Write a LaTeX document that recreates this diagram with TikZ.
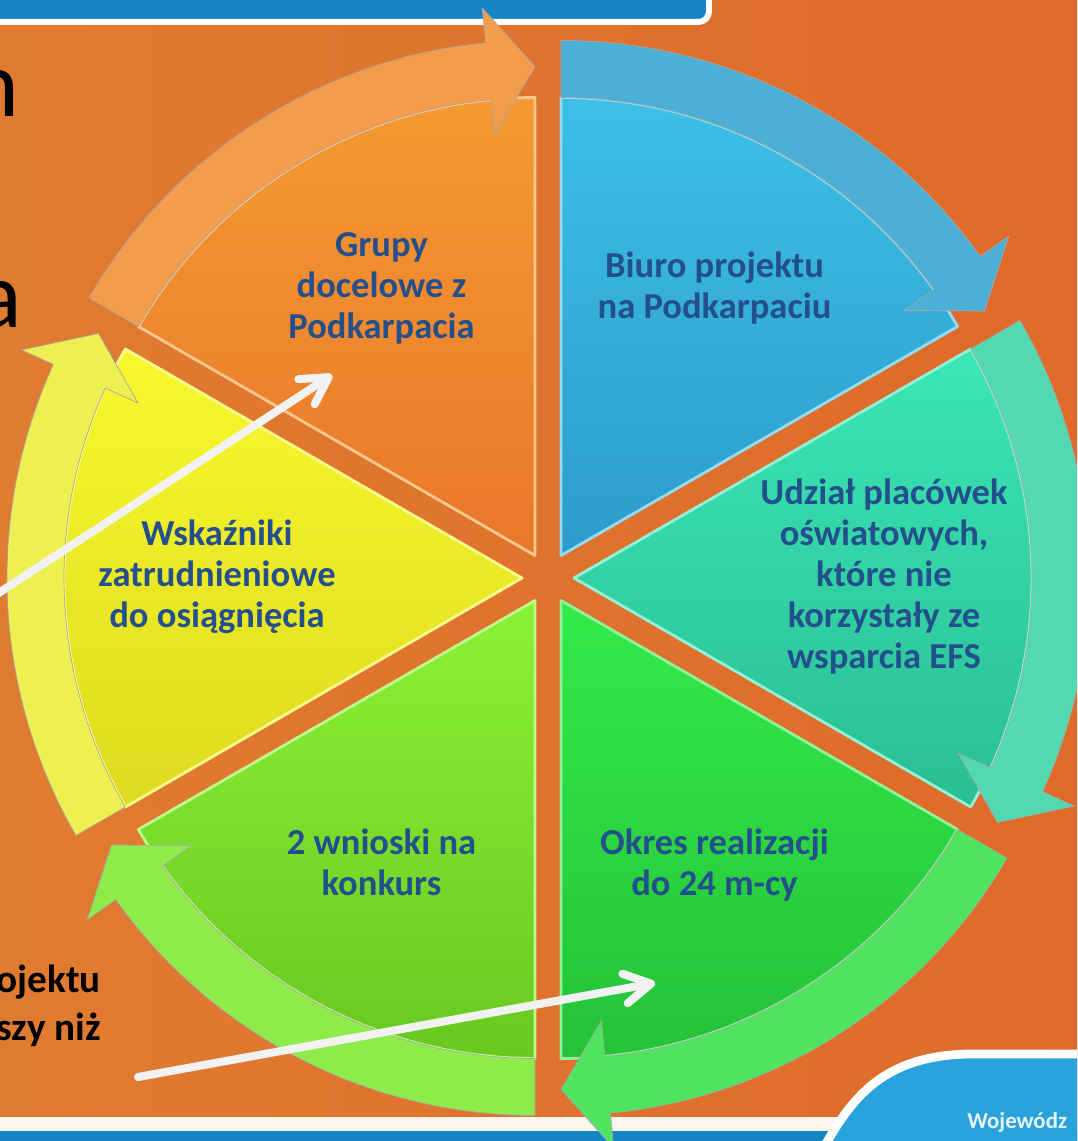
\documentclass[tikz,border=0pt]{standalone}
\usepackage{fontspec}
\setmainfont{Carlito}
\usepackage{tikz}
\usetikzlibrary{arrows.meta,positioning,calc}

\definecolor{bgleft}{HTML}{E07C31}
\definecolor{bgright}{HTML}{DF6A29}
\definecolor{txtblue}{HTML}{23508C}
\definecolor{bannerblue}{HTML}{1685C5}
\definecolor{footblue}{HTML}{2AA3DC}
\definecolor{pointerwhite}{HTML}{F2F2F2}
\definecolor{orangetop}{HTML}{F59A32}
\definecolor{orangebot}{HTML}{E9772A}
\definecolor{orangering}{HTML}{F59C4A}
\definecolor{bluetop}{HTML}{3DBFE6}
\definecolor{bluebot}{HTML}{2C9CCB}
\definecolor{bluering}{HTML}{4BAFD6}
\definecolor{tealtop}{HTML}{3BE6B6}
\definecolor{tealbot}{HTML}{29BE93}
\definecolor{tealring}{HTML}{52D9B0}
\definecolor{greentop}{HTML}{33EA4A}
\definecolor{greenbot}{HTML}{24C238}
\definecolor{greenring}{HTML}{4FE35F}
\definecolor{lgreentop}{HTML}{8CF235}
\definecolor{lgreenbot}{HTML}{68C820}
\definecolor{lgreenring}{HTML}{8EEB4A}
\definecolor{yellowtop}{HTML}{F8F82E}
\definecolor{yellowbot}{HTML}{DEDA1E}
\definecolor{yellowring}{HTML}{EEF052}

\begin{document}
\begin{tikzpicture}[
    x=0.02cm, y=0.02cm,
    >={Straight Barb[length=15pt,width=17pt,line cap=round,line join=round]},
    segtext/.style={
        text=txtblue,
        font=\fontsize{20.8}{23.3}\selectfont\bfseries,
        inner sep=0pt
    },
    cuttext/.style={
        text=black,
        font=\fontsize{22.3}{27}\selectfont\bfseries,
        inner sep=0pt
    },
    bigtext/.style={
        text=black,
        font=\fontsize{54}{60}\selectfont,
        inner sep=0pt
    },
    segment/.style={
        draw=#1!55!white,
        line width=1.6pt,
        line join=round
    },
    ring/.style={
        fill=#1,
        draw=black!35,
        line width=0.4pt,
        line join=round
    },
    pointer/.style={
        draw=pointerwhite,
        line width=4.6pt,
        line cap=round
    }
  ]
  \useasboundingbox (-548,-563) rectangle (529,578);
  \clip (-548,-563) rectangle (529,578);

  % background and banners
  \shade[left color=bgleft, right color=bgright] (-548,-563) rectangle (529,578);
  \draw[white, line width=3.4pt, fill=bannerblue, rounded corners=6pt]
    (-570,556) rectangle (161,610);
  \fill[white!92!bgleft] (-560,-553) rectangle (560,-539);
  \fill[bannerblue] (-560,-575) rectangle (560,-553);
  \draw[white, line width=5pt, fill=footblue]
    (270,-580) .. controls (300,-525) and (330,-478) .. (420,-476)
    -- (560,-476) -- (560,-580) -- cycle;
  \node[anchor=base west, text=white!88!footblue,
        font=\fontsize{13}{15}\selectfont\bfseries, inner sep=0pt]
    (woj) at (419,-550) {Wojewódz};

  % We start by placing the segments
  \begin{scope}[shift={(-13,22.5)}]
    \fill[top color=orangetop, bottom color=orangebot]
      (0,0) -- (90:458) arc[start angle=90, end angle=150, radius=458] -- cycle;
    \draw[segment=orangetop]
      (0,0) -- (90:458) arc[start angle=90, end angle=150, radius=458] -- cycle;
    \draw[ring=orangering]
      (150:515) arc[start angle=150, end angle=95.5, radius=515]
      -- (95.5:550) -- (90:489) -- (95.5:422) -- (95.5:458)
      arc[start angle=95.5, end angle=150, radius=458] -- cycle;
  \end{scope}

  \begin{scope}[shift={(13,22.5)}]
    \fill[top color=bluetop, bottom color=bluebot]
      (0,0) -- (30:458) arc[start angle=30, end angle=90, radius=458] -- cycle;
    \draw[segment=bluetop]
      (0,0) -- (30:458) arc[start angle=30, end angle=90, radius=458] -- cycle;
    \draw[ring=bluering]
      (90:515) arc[start angle=90, end angle=35.5, radius=515]
      -- (35.5:550) -- (30:489) -- (35.5:422) -- (35.5:458)
      arc[start angle=35.5, end angle=90, radius=458] -- cycle;
  \end{scope}

  \begin{scope}[shift={(26,0)}]
    \fill[top color=tealtop, bottom color=tealbot]
      (0,0) -- (-30:458) arc[start angle=-30, end angle=30, radius=458] -- cycle;
    \draw[segment=tealtop]
      (0,0) -- (-30:458) arc[start angle=-30, end angle=30, radius=458] -- cycle;
    \draw[ring=tealring]
      (30:515) arc[start angle=30, end angle=-24.5, radius=515]
      -- (-24.5:550) -- (-30:489) -- (-24.5:422) -- (-24.5:458)
      arc[start angle=-24.5, end angle=30, radius=458] -- cycle;
  \end{scope}

  \begin{scope}[shift={(13,-22.5)}]
    \fill[top color=greentop, bottom color=greenbot]
      (0,0) -- (-90:458) arc[start angle=-90, end angle=-30, radius=458] -- cycle;
    \draw[segment=greentop]
      (0,0) -- (-90:458) arc[start angle=-90, end angle=-30, radius=458] -- cycle;
    \draw[ring=greenring]
      (-30:515) arc[start angle=-30, end angle=-84.5, radius=515]
      -- (-84.5:550) -- (-90:489) -- (-84.5:422) -- (-84.5:458)
      arc[start angle=-84.5, end angle=-30, radius=458] -- cycle;
  \end{scope}

  \begin{scope}[shift={(-13,-22.5)}]
    \fill[top color=lgreentop, bottom color=lgreenbot]
      (0,0) -- (-150:458) arc[start angle=-150, end angle=-90, radius=458] -- cycle;
    \draw[segment=lgreentop]
      (0,0) -- (-150:458) arc[start angle=-150, end angle=-90, radius=458] -- cycle;
    \draw[ring=lgreenring]
      (-90:515) arc[start angle=-90, end angle=-144.5, radius=515]
      -- (-144.5:550) -- (-150:489) -- (-144.5:422) -- (-144.5:458)
      arc[start angle=-144.5, end angle=-90, radius=458] -- cycle;
  \end{scope}

  \begin{scope}[shift={(-26,0)}]
    \fill[top color=yellowtop, bottom color=yellowbot]
      (0,0) -- (150:458) arc[start angle=150, end angle=210, radius=458] -- cycle;
    \draw[segment=yellowtop]
      (0,0) -- (150:458) arc[start angle=150, end angle=210, radius=458] -- cycle;
    \draw[ring=yellowring]
      (210:515) arc[start angle=210, end angle=155.5, radius=515]
      -- (155.5:550) -- (150:489) -- (155.5:422) -- (155.5:458)
      arc[start angle=155.5, end angle=210, radius=458] -- cycle;
  \end{scope}

  % texts of the segments
  \node[segtext] (grupy) at (120:333)
 {%
 \begin{tabular}{@{}c@{}}
  Grupy\\
  docelowe z\\
  Podkarpacia
 \end{tabular}
 };

  \node[segtext] (biuro) at (60:333)
 {%
 \begin{tabular}{@{}c@{}}
  Biuro projektu\\
  na Podkarpaciu
 \end{tabular}
 };

  \node[segtext] (udzial) at (0:336)
 {%
 \begin{tabular}{@{}c@{}}
  Udział placówek\\
  oświatowych,\\
  które nie\\
  korzystały ze\\
  wsparcia EFS
 \end{tabular}
 };

  \node[segtext] (okres) at (-60:333)
 {%
 \begin{tabular}{@{}c@{}}
  Okres realizacji\\
  do 24 m-cy
 \end{tabular}
 };

  \node[segtext] (wnioski) at (-120:333)
 {%
 \begin{tabular}{@{}c@{}}
  2 wnioski na\\
  konkurs
 \end{tabular}
 };

  \node[segtext] (wskazniki) at (180:331)
 {%
 \begin{tabular}{@{}c@{}}
  Wskaźniki\\
  zatrudnieniowe\\
  do osiągnięcia
 \end{tabular}
 };

  % cut texts at the left border
  \node[bigtext, anchor=base east] (bign) at (-528,461) {n};
  \node[bigtext, anchor=base east] (biga) at (-526,250) {a};
  \node[cuttext, anchor=base east] (projektu) at (-447,-414) {rojektu};
  \node[cuttext, anchor=base east] (krotszy) at (-447,-462) {szy niż};

  % white pointers
  \coordinate (w1start) at (-560,-22);
  \coordinate (w1end) at (-216,203);
  \coordinate (w2start) at (-410,-499);
  \coordinate (w2end) at (107,-405);
  \draw[pointer,->] (w1start) -- (w1end);
  \draw[pointer,->] (w2start) -- (w2end);

\end{tikzpicture}
\end{document}
